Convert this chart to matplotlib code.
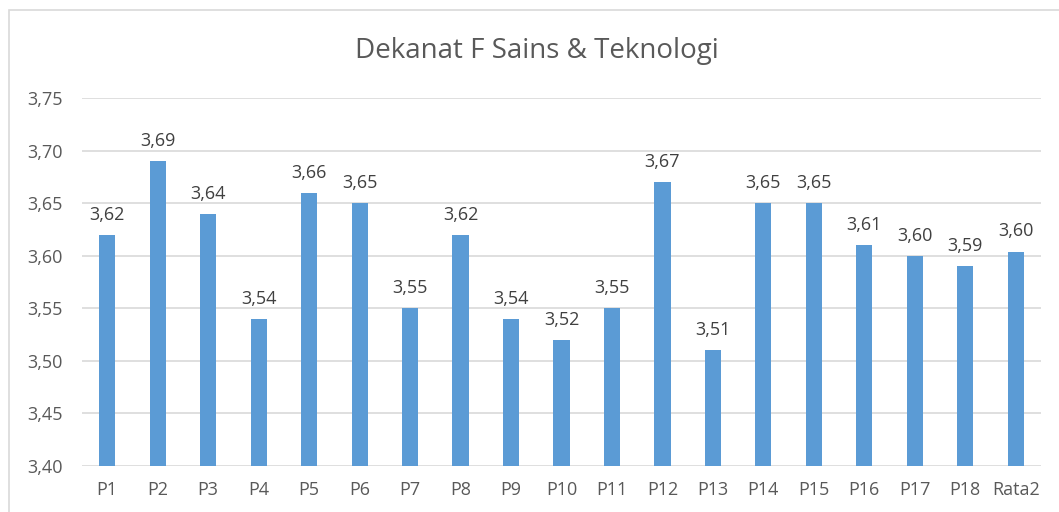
import matplotlib
matplotlib.use("Agg")
import matplotlib.pyplot as plt
from matplotlib.patches import Rectangle

categories = ["P1", "P2", "P3", "P4", "P5", "P6", "P7", "P8", "P9", "P10",
              "P11", "P12", "P13", "P14", "P15", "P16", "P17", "P18", "Rata2"]
values = [3.62, 3.69, 3.64, 3.54, 3.66, 3.65, 3.55, 3.62, 3.54, 3.52,
          3.55, 3.67, 3.51, 3.65, 3.65, 3.61, 3.60, 3.59, 3.604]
yticks = [3.40, 3.45, 3.50, 3.55, 3.60, 3.65, 3.70, 3.75]

plt.rcParams['font.family'] = ['Open Sans', 'DejaVu Sans']
W, H = 1059, 512
fig = plt.figure(figsize=(W / 100, H / 100), dpi=100)
ax = fig.add_axes([82 / W, 46 / H, (1041 - 82) / W, (466 - 98) / H])

# chart area border
fig.patches.append(Rectangle((9 / W, -0.1), 1.2, (512 - 10) / H + 0.1,
                             transform=fig.transFigure, fill=False,
                             edgecolor="#d9d9d9", linewidth=1.2))

x = list(range(len(categories)))
ax.bar(x, values, width=0.32, color="#5b9bd5", zorder=3)
ax.set_xlim(-0.5, len(categories) - 0.5)
ax.set_ylim(3.40, 3.75)
ax.set_yticks(yticks)
ax.set_yticklabels([f"{v:.2f}".replace(".", ",") for v in yticks])
ax.set_xticks(x)
ax.set_xticklabels(categories)
ax.grid(axis="y", color="#d9d9d9", linewidth=1.2, zorder=0)
for s in ax.spines.values():
    s.set_visible(False)
ax.tick_params(axis="both", length=0, colors="#595959", labelsize=13)
ax.tick_params(axis="y", pad=14)
ax.tick_params(axis="x", pad=11)

for xi, v in zip(x, values):
    ax.annotate(f"{v:.2f}".replace(".", ","), (xi, v), xytext=(0, 8),
                textcoords="offset points", ha="center", va="bottom",
                fontsize=13, color="#404040")

fig.text(537 / W, 1 - 51 / H, "Dekanat F Sains & Teknologi", ha="center",
         va="center", fontsize=20, color="#595959")

fig.savefig("out.png", dpi=100)
